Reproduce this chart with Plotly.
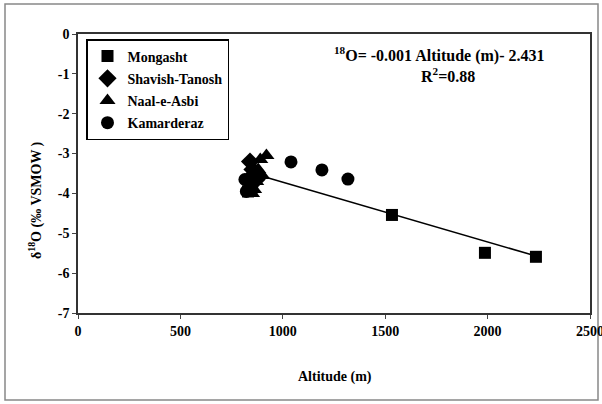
import plotly.graph_objects as go

# Data
mong_alt = [830, 850, 1533, 1987, 2236]
mong_d18o = [-3.95, -3.85, -4.54, -5.49, -5.59]

shav_alt = [840, 852, 862, 872, 845]
shav_d18o = [-3.2, -3.4, -3.5, -3.65, -3.75]

naal_alt = [920, 890, 880, 900, 870, 860, 850]
naal_d18o = [-3.05, -3.15, -3.4, -3.55, -3.7, -3.9, -4.0]

kama_alt = [1040, 1191, 1318, 815, 822, 840]
kama_d18o = [-3.21, -3.41, -3.64, -3.65, -3.95, -3.8]

fit_alt = [913, 2236]
fit_d18o = [-3.59, -5.57]

x_ticks = [0, 500, 1000, 1500, 2000, 2500]
x_labels = ["0", "500", "1000", "1500", "2000", "2500"]
y_ticks = [0, -1, -2, -3, -4, -5, -6, -7]
y_labels = ["0", "-1", "-2", "-3", "-4", "-5", "-6", "-7"]

FONT = "Liberation Serif"

def b(s):
    return "<b>" + s + "</b>"

fig = go.Figure()
fig.add_trace(go.Scatter(x=fit_alt, y=fit_d18o, mode="lines",
                         line=dict(color="black", width=1.5), showlegend=False))
fig.add_trace(go.Scatter(x=mong_alt, y=mong_d18o, mode="markers", name=b("Mongasht"), legendgroup="a",
                         marker=dict(symbol="square", size=12, color="black")))
fig.add_trace(go.Scatter(x=shav_alt, y=shav_d18o, mode="markers", name=b("Shavish-Tanosh"), legendgroup="b",
                         marker=dict(symbol="diamond", size=14, color="black")))
fig.add_trace(go.Scatter(x=naal_alt, y=naal_d18o, mode="markers", name=b("Naal-e-Asbi"), legendgroup="c",
                         marker=dict(symbol="triangle-up", size=14, color="black")))
fig.add_trace(go.Scatter(x=kama_alt, y=kama_d18o, mode="markers", name=b("Kamarderaz"), legendgroup="d",
                         marker=dict(symbol="circle", size=13, color="black")))

L, R, T, B = 78, 12, 34, 91
W, H = 602, 404
pw, ph = W - L - R, H - T - B

def px(x):
    return (x - L) / pw

def py(y):
    return (H - B - y) / ph

fig.update_layout(
    width=W, height=H,
    margin=dict(l=L, r=R, t=T, b=B, autoexpand=False),
    paper_bgcolor="white", plot_bgcolor="white",
    font=dict(family=FONT, color="black", size=13),
    legend=dict(x=px(86), y=py(39), xanchor="left", yanchor="top",
                bordercolor="black", borderwidth=1.5, bgcolor="white",
                font=dict(family=FONT, size=14),
                tracegroupgap=1, itemwidth=30),
    xaxis=dict(range=[0, 2500], tickvals=x_ticks, ticktext=[b(t) for t in x_labels],
               ticks="outside", ticklen=4, ticklabeloverflow="allow",
               showgrid=False, zeroline=False, showline=True, mirror=True, automargin=False,
               linecolor="#333", linewidth=1.5,
               tickfont=dict(family=FONT, size=14)),
    yaxis=dict(range=[-7, 0], tickvals=y_ticks, ticktext=[b(t) for t in y_labels],
               ticks="outside", ticklen=4, ticklabeloverflow="allow",
               showgrid=False, zeroline=False, showline=True, mirror=True, automargin=False,
               linecolor="#333", linewidth=1.5,
               tickfont=dict(family=FONT, size=14)),
    annotations=[
        dict(x=px(439), y=py(54), xref="paper", yref="paper", showarrow=False,
             xanchor="center", yanchor="middle",
             text=b("<sup>18</sup>O= -0.001 Altitude (m)- 2.431"),
             font=dict(family=FONT, size=16)),
        dict(x=px(448), y=py(75), xref="paper", yref="paper", showarrow=False,
             xanchor="center", yanchor="middle",
             text=b("R<sup>2</sup>=0.88"),
             font=dict(family=FONT, size=16)),
        dict(x=px(335), y=py(377), xref="paper", yref="paper", showarrow=False,
             xanchor="center", yanchor="middle",
             text=b("Altitude (m)"), font=dict(family=FONT, size=14)),
        dict(x=px(35), y=py(200), xref="paper", yref="paper", showarrow=False,
             xanchor="center", yanchor="middle",
             text=b("δ<sup>18</sup>O (‰ VSMOW )"), textangle=-90,
             font=dict(family=FONT, size=14)),
    ],
    shapes=[
        dict(type="rect", xref="paper", yref="paper",
             x0=px(5), x1=px(598), y0=py(400), y1=py(4),
             line=dict(color="#888", width=1.5), layer="below"),
    ],
)

fig.write_html("out.html")
